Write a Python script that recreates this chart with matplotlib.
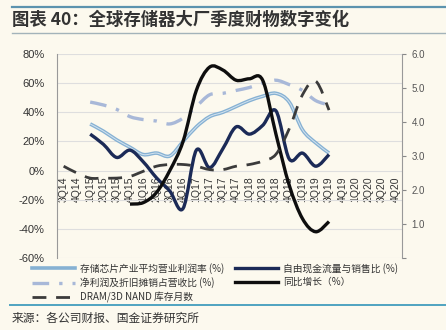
import numpy as np
import matplotlib.pyplot as plt
from matplotlib.path import Path
from matplotlib.patches import PathPatch
from matplotlib.lines import Line2D

plt.rcParams['font.family'] = ['Liberation Sans', 'Noto Sans CJK SC', 'DejaVu Sans']
CJK = ['Noto Sans CJK SC', 'DejaVu Sans']

# -------------------------- DATA --------------------------
quarters = ['3Q14', '4Q14',
            '1Q15', '2Q15', '3Q15', '4Q15',
            '1Q16', '2Q16', '3Q16', '4Q16',
            '1Q17', '2Q17', '3Q17', '4Q17',
            '1Q18', '2Q18', '3Q18', '4Q18',
            '1Q19', '2Q19', '3Q19', '4Q19',
            '1Q20', '2Q20', '3Q20', '4Q20']

# 1Q15 .. 3Q19, left axis (%)
op_margin = [32, 27, 21, 16, 11, 12, 10, 20, 30, 37, 40, 44, 48, 51, 53, 47, 28, 19, 12]
fcf_to_sales = [25, 18, 9, 14, 6, -5, -14, -26, 14, 2, 15, 30, 25, 31, 41, 8, 12, 3, 11]
ni_da_to_rev = [47, 45, 42, 37, 35, 34, 32, 36, 44, 52, 53, 55, 57, 60, 62, 59, 55, 48, 45]
# 4Q15 .. 3Q19, left axis (%)
yoy_growth = [-23, -22, -15, 0, 20, 55, 71, 69, 62, 63, 62, 25, -10, -33, -42, -35]
# 3Q14 .. 3Q19, right axis (months)
inventory_months = [2.7, 2.5, 2.35, 2.35, 2.35, 2.4, 2.55, 2.7, 2.75, 2.75, 2.7,
                    2.6, 2.6, 2.7, 2.75, 2.85, 3.05, 3.8, 4.8, 5.2, 4.35]

left_ticks = [80, 60, 40, 20, 0, -20, -40, -60]
right_ticks = [0, 1, 2, 3, 4, 5, 6]
right_labels = ['', '1.0', '2.0', '3.0', '4.0', '5.0', '6.0']


def smooth_path(xs, ys):
    # cubic bezier through the points (catmull-rom style), like excel's smoothed lines
    pts = np.column_stack([xs, ys]).astype(float)
    n = len(pts)
    verts = [pts[0]]
    codes = [Path.MOVETO]
    for i in range(n - 1):
        p0 = pts[i - 1] if i > 0 else pts[i]
        p1, p2 = pts[i], pts[i + 1]
        p3 = pts[i + 2] if i + 2 < n else pts[i + 1]
        verts += [p1 + (p2 - p0) / 6, p2 - (p3 - p1) / 6, p2]
        codes += [Path.CURVE4] * 3
    return Path(verts, codes)


def draw_series(ax, start, values, **kw):
    xs = np.arange(start, start + len(values))
    patch = PathPatch(smooth_path(xs, values), facecolor='none',
                      capstyle='butt', joinstyle='round', **kw)
    ax.add_patch(patch)


bg = '#FCF9EE'
fig = plt.figure(figsize=(4.46, 3.30), dpi=100, facecolor=bg)
ax = fig.add_axes([57 / 446, 1 - 258 / 330, 345 / 446, 204 / 330])
ax.set_facecolor(bg)
ax2 = ax.twinx()

c_margin = '#86B1D3'
c_fcf = '#1B2A57'
c_ni = '#A8B8D8'
c_yoy = '#0E0E0E'
c_inv = '#3B3B3B'

draw_series(ax, 2, op_margin, edgecolor=c_margin, lw=2.6, zorder=3)
draw_series(ax, 2, op_margin, edgecolor='#D3E3EF', lw=0.7, zorder=3.1)
draw_series(ax, 2, ni_da_to_rev, edgecolor=c_ni, lw=2.4, linestyle=(0, (5, 3, 1, 3)), zorder=3)
draw_series(ax, 2, fcf_to_sales, edgecolor=c_fcf, lw=2.4, zorder=4)
draw_series(ax, 5, yoy_growth, edgecolor=c_yoy, lw=2.4, zorder=5)
draw_series(ax2, 0, inventory_months, edgecolor=c_inv, lw=2.0, linestyle=(0, (5, 3.5)), zorder=3)

ax.set_xlim(-0.5, len(quarters) - 0.5)
ax.set_ylim(-60, 80)
ax2.set_ylim(0, 6)

ax.set_yticks(left_ticks, labels=[f'{v}%' for v in left_ticks])
ax.tick_params(axis='y', length=0, pad=9, labelsize=8, labelcolor='#333333')
ax2.set_yticks(right_ticks, labels=right_labels)
ax2.tick_params(axis='y', length=3, width=0.8, color='#888888', pad=4,
                labelsize=7, labelcolor='#555555')

# quarter labels hang vertically just under the 0% line
ax.spines['bottom'].set_position(('data', 0))
ax.set_xticks(np.arange(len(quarters)), labels=quarters)
ax.tick_params(axis='x', length=0, pad=4, labelsize=7.5, labelcolor='#333333',
               labelrotation=90)

ax.grid(axis='y', color='#DEDEDE', lw=0.8)
ax.set_axisbelow(True)
for a in (ax, ax2):
    for side in ('top', 'bottom', 'left', 'right'):
        a.spines[side].set_visible(False)
ax.spines['left'].set_visible(True)
ax.spines['left'].set_color('#999999')
ax.spines['left'].set_linewidth(0.8)
ax2.spines['right'].set_visible(True)
ax2.spines['right'].set_color('#999999')
ax2.spines['right'].set_linewidth(0.8)

# -------------------------- LEGEND --------------------------
handles = [
    Line2D([], [], color=c_margin, lw=2.6),
    Line2D([], [], color=c_ni, lw=2.4, linestyle=(0, (5, 3, 1, 3))),
    Line2D([], [], color=c_inv, lw=2.0, linestyle=(0, (5, 3.5))),
    Line2D([], [], color=c_fcf, lw=2.4),
    Line2D([], [], color=c_yoy, lw=2.4),
]
labels = ['存储芯片产业平均营业利润率 (%)', '净利润及折旧摊销占营收比 (%)',
          'DRAM/3D NAND 库存月数', '自由现金流量与销售比 (%)', '同比增长（%）']
leg = fig.legend(handles, labels, ncol=2, loc='upper left',
                 bbox_to_anchor=(28 / 446, 1 - 259 / 330), frameon=False,
                 handlelength=4.4, handletextpad=0.5, columnspacing=1.2,
                 labelspacing=0.35, borderaxespad=0,
                 prop={'family': CJK, 'size': 7})
for t in leg.get_texts():
    t.set_color('#333333')

# -------------------------- HEADER / FOOTER --------------------------
fig.add_artist(Line2D([12 / 446, 1], [1 - 7 / 330] * 2, color='#5C93AE', lw=1.6))
fig.add_artist(Line2D([12 / 446, 1], [1 - 33 / 330] * 2, color='#A3B3BA', lw=1.0))
fig.add_artist(Line2D([10 / 446, 1], [1 - 305 / 330] * 2, color='#4FA3C0', lw=1.4))

fig.text(12 / 446, 1 - 20 / 330, '图表 40：全球存储器大厂季度财物数字变化',
         family=CJK, fontsize=12.5, fontweight='bold', color='#333333', va='center')
fig.text(12 / 446, 1 - 318 / 330, '来源：各公司财报、国金证券研究所',
         family=CJK, fontsize=8.5, color='#333333', va='center')

fig.savefig('out.png', dpi=100, facecolor=bg)
